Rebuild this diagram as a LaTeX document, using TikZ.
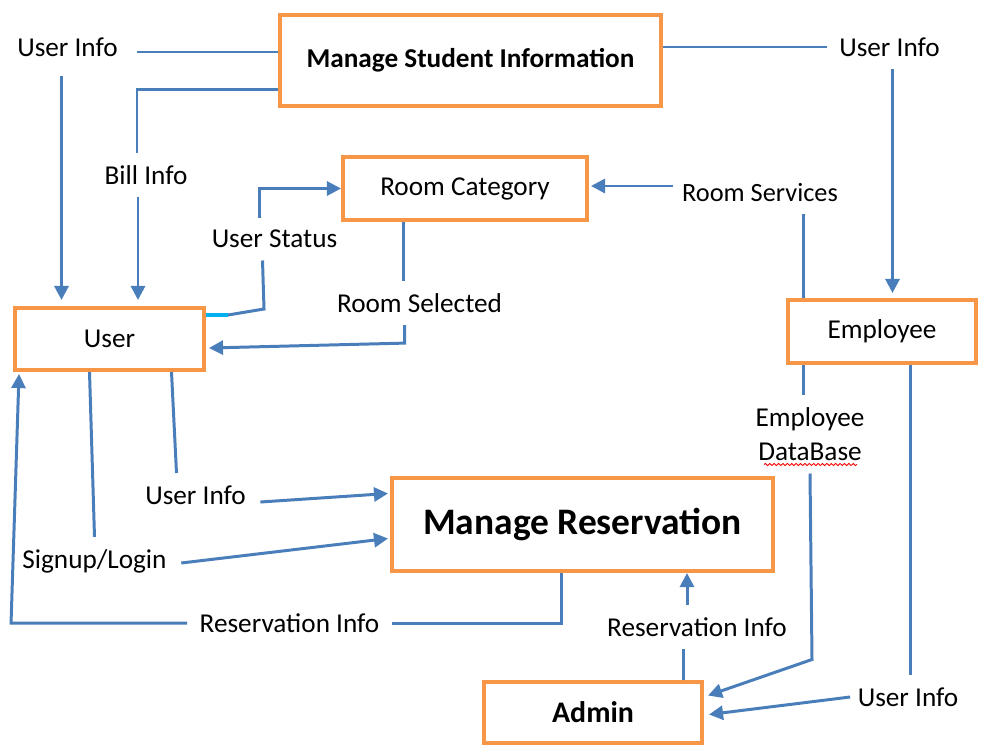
\documentclass[tikz,border=0pt]{standalone}
\usepackage{fontspec}
\setmainfont{Carlito}
\usetikzlibrary{arrows.meta,calc,decorations.pathmorphing}
\definecolor{naranja}{HTML}{F79646}
\definecolor{azul}{HTML}{4A7EBB}
\definecolor{cian}{HTML}{00B0F0}

\begin{document}
\begin{tikzpicture}[x=0.02cm,y=-0.02cm,
  font=\fontsize{15.5}{19.8}\selectfont,
  caja/.style 2 args={draw=naranja,line width=2.3pt,minimum width=#1,minimum height=#2},
  etiqueta/.style={inner sep=7pt,text depth=0pt},
  linea/.style={draw=azul,line width=1.7pt},
  flecha/.style={linea,-{Triangle[length=8pt,width=8pt]}}]
% Marco de la figura
\useasboundingbox (0,0) rectangle (983,751);

% Las cajas naranjas con su texto
\node[caja={7.62cm}{1.82cm}] (msi) at (470.5,60.5) {\bfseries Manage Student Information};
\node[caja={4.88cm}{1.26cm}] (rc) at (465,188.5) {Room Category};
\node[caja={3.78cm}{1.24cm}] (user) at (109.5,339) {User};
\node[caja={3.76cm}{1.26cm}] (emp) at (882,331.5) {Employee};
\node[caja={7.62cm}{1.86cm}] (mr) at (582.5,524.5) {\fontsize{21.3}{25}\selectfont\bfseries Manage Reservation};
\node[caja={4.36cm}{1.22cm}] (adm) at (593,712.5) {\fontsize{17}{20}\selectfont\bfseries Admin};

% Los textos de los flujos
\node[etiqueta] (uiA) at (67.5,47) {User Info};
\node[etiqueta] (uiB) at (889.5,47) {User Info};
\node[etiqueta] (bill) at (146,175) {Bill Info};
\node[etiqueta] (ustat) at (274.5,239) {User Status};
\node[etiqueta] (rsel) at (419.5,303) {Room Selected};
\node[etiqueta,font=\fontsize{15}{18}\selectfont] (rserv) at (760,192) {Room Services};
\node[etiqueta,align=center] (empdb) at (810,434) {Employee\\DataBase};
\node[etiqueta] (uiC) at (195.5,495) {User Info};
\node[etiqueta] (sign) at (94.5,559) {Signup/Login};
\node[etiqueta] (resA) at (289.5,623) {Reservation Info};
\node[etiqueta] (resB) at (697,627) {Reservation Info};
\node[etiqueta] (uiD) at (908,697) {User Info};

% Subrayado rojo bajo DataBase
\draw[red,line width=0.5pt,decorate,decoration={snake,amplitude=0.6pt,segment length=2.5pt}]
  ($(empdb.south)+(-46,-9)$) -- ($(empdb.south)+(47,-9)$);

% De Manage Student Information hacia User
\draw[linea] ($(msi.west |- uiA.east)+(0,5)$) -- ($(uiA.east)+(7,5)$);
\draw[flecha] ($(uiA.south)+(-6,7)$) -- ($(uiA.south |- user.north)+(-6,-6)$);
\coordinate (b1) at ($(bill.north)+(-9,0)$);
\draw[linea] ($(msi.south west)+(0,-19)$) -| (b1);
\coordinate (b2) at ($(bill.south)+(-8,0)$);
\draw[flecha] (b2) -- ($(b2 |- user.north)+(0,-6)$);

% De Manage Student Information hacia Employee
\draw[linea] (msi.east |- uiB.west) -- (uiB.west);
\draw[flecha] ($(uiB.south)+(3,0)$) -- ($(uiB.south |- emp.north)+(3,-5)$);

% User Status hacia Room Category
\draw[cian,line width=2pt] ($(user.north east)+(0,9)$) -- ++(22,0) coordinate (us0);
\coordinate (us1) at ($(ustat.south)+(-12,0)$);
\draw[linea] (us0) -- ++(36,-6) -- (us1);
\coordinate (us2) at ($(ustat.north)+(-15,0)$);
\draw[flecha] (us2) |- (rc.west);

% Room Selected hacia User
\coordinate (rs1) at ($(rsel.north)+(-16,0)$);
\draw[linea] (rs1 |- rc.south) -- (rs1);
\coordinate (rs2) at ($(rsel.south)+(-15,0)$);
\draw[flecha] (rs2) -- ++(0,18) -- ($(user.east)+(3,9)$);

% Room Services desde Employee
\draw[flecha] ($(rserv.west)+(4,-6)$) -- ($(rserv.west -| rc.east)+(2,-6)$);
\coordinate (rv1) at ($(rserv.south)+(43,0)$);
\draw[linea] (rv1 |- emp.north) -- (rv1);

% Employee DataBase hacia Admin
\coordinate (ed1) at ($(empdb.north)+(-7,0)$);
\draw[linea] (ed1 |- emp.south) -- (ed1);
\draw[flecha] (empdb.south) -- ++(2,186) -- ($(adm.east)+(4,-17)$);

% User Info desde Employee hacia Admin
\draw[linea] ($(uiD.north |- emp.south)+(2,0)$) -- ($(uiD.north)+(2,0)$);
\draw[flecha] ($(uiD.west)+(5,0)$) -- ($(adm.east)+(5,2)$);

% De User hacia Manage Reservation
\coordinate (uc1) at ($(uiC.north)+(-19,0)$);
\draw[linea] ($(user.south)+(62,0)$) -- (uc1);
\draw[flecha] ($(uiC.east)+(2,7)$) -- ($(mr.west)+(-2,-31)$);
\draw[linea] ($(user.south)+(-20,0)$) -- (sign.north);
\draw[flecha] ($(sign.east)+(2,4)$) -- ($(mr.west)+(-2,14)$);

% Reservation Info de vuelta a User
\draw[linea] ($(mr.south)+(-21,0)$) |- (resA.east);
\draw[flecha] (resA.west) -- ++(-176,0) -- ($(user.south west)+(6,2)$);

% Reservation Info desde Admin
\coordinate (rb1) at ($(resB.south)+(-14,0)$);
\draw[linea] (rb1 |- adm.north) -- (rb1);
\coordinate (rb2) at ($(resB.north)+(-10,0)$);
\draw[flecha] (rb2) -- (rb2 |- mr.south);
\end{tikzpicture}
\end{document}
